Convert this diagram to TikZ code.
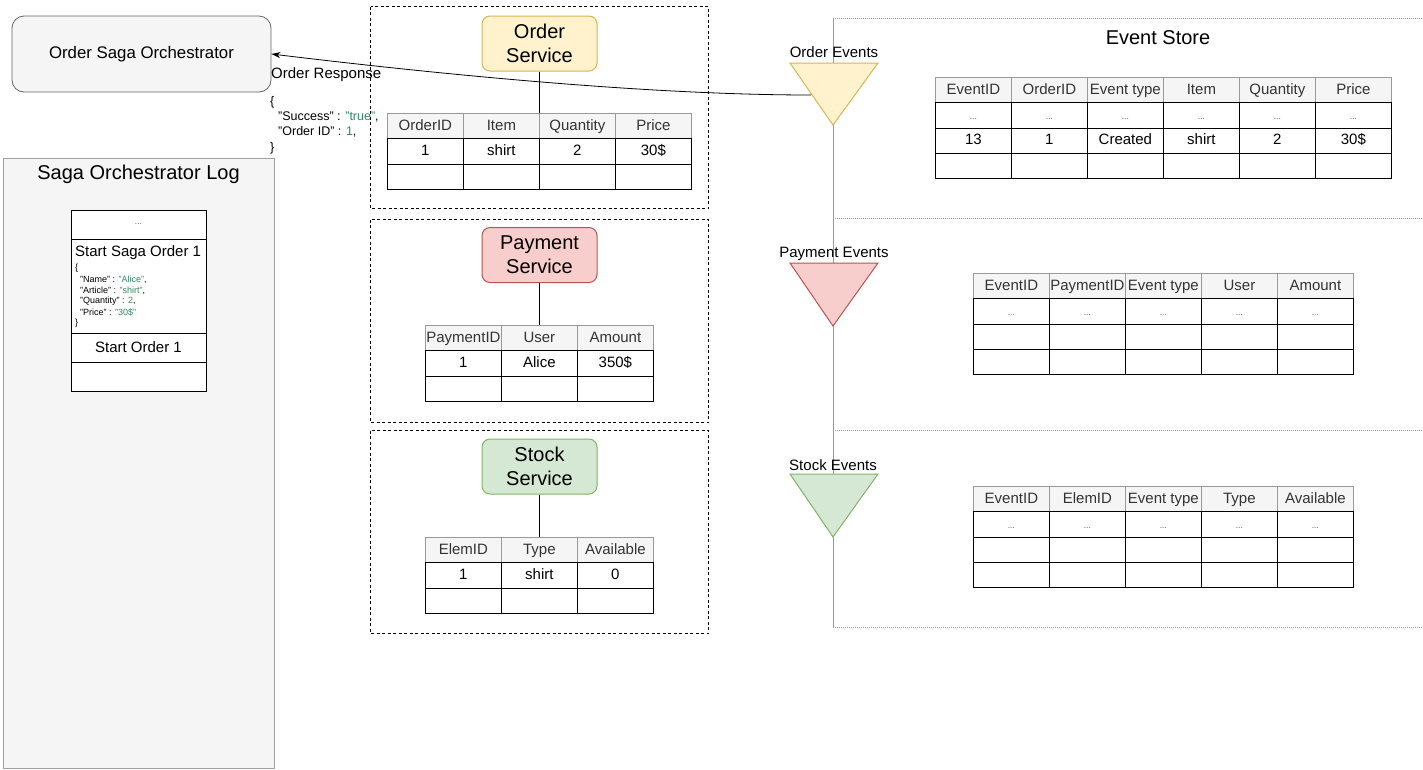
\documentclass[tikz,border=0pt]{standalone}
\usepackage{fontspec}
\setmainfont{Liberation Sans}
\usetikzlibrary{matrix,arrows.meta}
\definecolor{hdr}{HTML}{F5F5F5}
\definecolor{hdrline}{HTML}{9A9A9A}
\definecolor{hdrtxt}{HTML}{333333}
\definecolor{dotgray}{HTML}{555555}
\definecolor{jsgreen}{HTML}{2E8B62}
\definecolor{yfill}{HTML}{FFF2CC}\definecolor{ystroke}{HTML}{D6B656}
\definecolor{rfill}{HTML}{F8CECC}\definecolor{rstroke}{HTML}{B85450}
\definecolor{gfill}{HTML}{D5E8D4}\definecolor{gstroke}{HTML}{82B366}
\definecolor{boxgray}{HTML}{666666}
\definecolor{loggray}{HTML}{A0A0A0}
\definecolor{storeline}{HTML}{999999}
\newcommand\fs[2]{\fontsize{#1}{#2}\selectfont}
\tikzset{
  tbl/.style={matrix of nodes, nodes in empty cells, ampersand replacement=\&,
    column sep=-0.8pt, row sep=-0.8pt, anchor=north west, inner sep=0pt, outer sep=0pt,
    nodes={draw=black, line width=0.8pt, minimum width=76pt, minimum height=25.3pt,
      inner sep=0pt, font=\fs{15}{18}, text height=11pt, text depth=3pt, anchor=center},
    row 1/.style={nodes={fill=hdr, draw=hdrline, text=hdrtxt}}},
  dotrow/.style={row #1/.style={nodes={font=\fs{8.5}{9}, text=dotgray}}},
  service/.style={draw=#1stroke, fill=#1fill, rounded corners=8pt, line width=1pt,
    minimum width=115pt, minimum height=55pt, align=center, font=\fs{20}{24}},
  svcbox/.style={draw=black, line width=0.7pt, dash pattern=on 3pt off 2.5pt},
  storedot/.style={draw=storeline, line width=0.7pt, dash pattern=on 1pt off 1pt},
  logcell/.style={draw=black, line width=0.8pt, fill=white, minimum width=135pt, inner sep=0pt},
  jsl/.style={anchor=west, inner sep=0pt, font=\fs{9}{10}},
  jsr/.style={anchor=west, inner sep=0pt, font=\fs{12.5}{14}},
  evlabel/.style={font=\fs{15}{18}, inner sep=0pt},
  conn/.style={draw=black, line width=0.8pt},
  tri/.style={draw=#1stroke, fill=#1fill, line width=1pt, line join=miter},
}
\begin{document}
\begin{tikzpicture}[x=1pt,y=-1pt]
\useasboundingbox (0,0) rectangle (1423,769);
\fill[white] (0,0) rectangle (1423,769);

% ---------- left: orchestrator and log ----------
\node[draw=boxgray, fill=hdr, rounded corners=12pt, line width=0.8pt,
  minimum width=259pt, minimum height=76pt, font=\fs{16.8}{19}] (orch) at (141.5,54) {Order Saga Orchestrator};

\draw[draw=loggray, fill=hdr, line width=0.8pt] (3,158) rectangle (274,768.5);
\node[font=\fs{20}{24}] (logtitle) at (138.5,174) {Saga Orchestrator Log};

\node[logcell, minimum height=29pt] (l1) at (138.5,224.5) {\fs{8.5}{9}\color{dotgray}...};
\node[logcell, minimum height=94pt] (l2) at (138.5,286) {};
\node[logcell, minimum height=29pt, font=\fs{15}{18}] (l3) at (138.5,347.5) {Start Order 1};
\node[logcell, minimum height=29pt] (l4) at (138.5,376.5) {};
\node[anchor=west, inner sep=0pt, font=\fs{15}{18}] (l2t) at (75,253) {Start Saga Order 1};
\node[jsl] (lj0) at (75,268) {\{};
\node[jsl] (lj1) at (80,279.5) {"Name" : \textcolor{jsgreen}{"Alice"},};
\node[jsl] (lj2) at (80,290.5) {"Article" : \textcolor{jsgreen}{"shirt"},};
\node[jsl] (lj3) at (80,301.5) {"Quantity" : \textcolor{jsgreen}{2},};
\node[jsl] (lj4) at (80,312.3) {"Price" : \textcolor{jsgreen}{"30\$"}};
\node[jsl] (lj5) at (75,323) {\}};

% ---------- order response ----------
\node[anchor=west, inner sep=0pt, font=\fs{15}{18}] (resp) at (271,75) {Order Response};
\node[jsr] (rj0) at (270,102) {\{};
\node[jsr] (rj1) at (278,117) {"Success" : \textcolor{jsgreen}{"true"},};
\node[jsr] (rj2) at (278,132) {"Order ID" : \textcolor{jsgreen}{1},};
\node[jsr] (rj3) at (270,148) {\}};

% ---------- services ----------
\draw[svcbox] (370.5,6.5) rectangle (708.5,208.5);
\draw[svcbox] (370.5,219.5) rectangle (708.5,422.5);
\draw[svcbox] (370.5,430.5) rectangle (708.5,633.5);

\node[service=y] (os) at (539.5,43.5) {Order\\Service};
\node[service=r] (ps) at (539.5,255) {Payment\\Service};
\node[service=g] (ss) at (539.5,466.5) {Stock\\Service};

\matrix (ot) [tbl] at (387,113) {
OrderID \& Item \& Quantity \& Price \\
1 \& shirt \& 2 \& 30\$ \\
\& \& \& \\
};
\matrix (pt) [tbl] at (425,325) {
PaymentID \& User \& Amount \\
1 \& Alice \& 350\$ \\
\& \& \\
};
\matrix (st) [tbl] at (425,537) {
ElemID \& Type \& Available \\
1 \& shirt \& 0 \\
\& \& \\
};
\draw[conn] (os.south) -- (os.south |- ot.north);
\draw[conn] (ps.south) -- (ps.south |- pt.north);
\draw[conn] (ss.south) -- (ss.south |- st.north);

% ---------- event store ----------
\draw[storedot] (833,18) -- (1423,18);
\draw[storedot] (833,218) -- (1423,218);
\draw[storedot] (833,430) -- (1423,430);
\draw[storedot] (833,627.5) -- (1423,627.5);
\draw[draw=storeline, line width=1pt] (833,18) -- (833,628);
\node[font=\fs{20}{24}] (estitle) at (1158,38) {Event Store};

\draw[tri=y] (790,63) -- (878,63) -- (833,125) -- cycle;
\draw[tri=r] (790,263) -- (878,263) -- (833,326) -- cycle;
\draw[tri=g] (790,474) -- (878,474) -- (833,537) -- cycle;
\node[evlabel] (oel) at (834,52.5) {Order Events};
\node[evlabel] (pel) at (834,253.5) {Payment Events};
\node[evlabel] (sel) at (833,465) {Stock Events};

\matrix (oet) [tbl, dotrow=2] at (935,77) {
EventID \& OrderID \& Event type \& Item \& Quantity \& Price \\
... \& ... \& ... \& ... \& ... \& ... \\
13 \& 1 \& Created \& shirt \& 2 \& 30\$ \\
\& \& \& \& \& \\
};
\matrix (pet) [tbl, dotrow=2] at (973,273) {
EventID \& PaymentID \& Event type \& User \& Amount \\
... \& ... \& ... \& ... \& ... \\
\& \& \& \& \\
\& \& \& \& \\
};
\matrix (set) [tbl, dotrow=2] at (973,486) {
EventID \& ElemID \& Event type \& Type \& Available \\
... \& ... \& ... \& ... \& ... \\
\& \& \& \& \\
\& \& \& \& \\
};

% ---------- response arrow ----------
\coordinate (oestart) at (811,95);
\draw[line width=0.8pt, -{Stealth[length=9pt,width=6pt]}] (oestart) .. controls (640,95) and (420,72) .. (orch.east);
\end{tikzpicture}
\end{document}
